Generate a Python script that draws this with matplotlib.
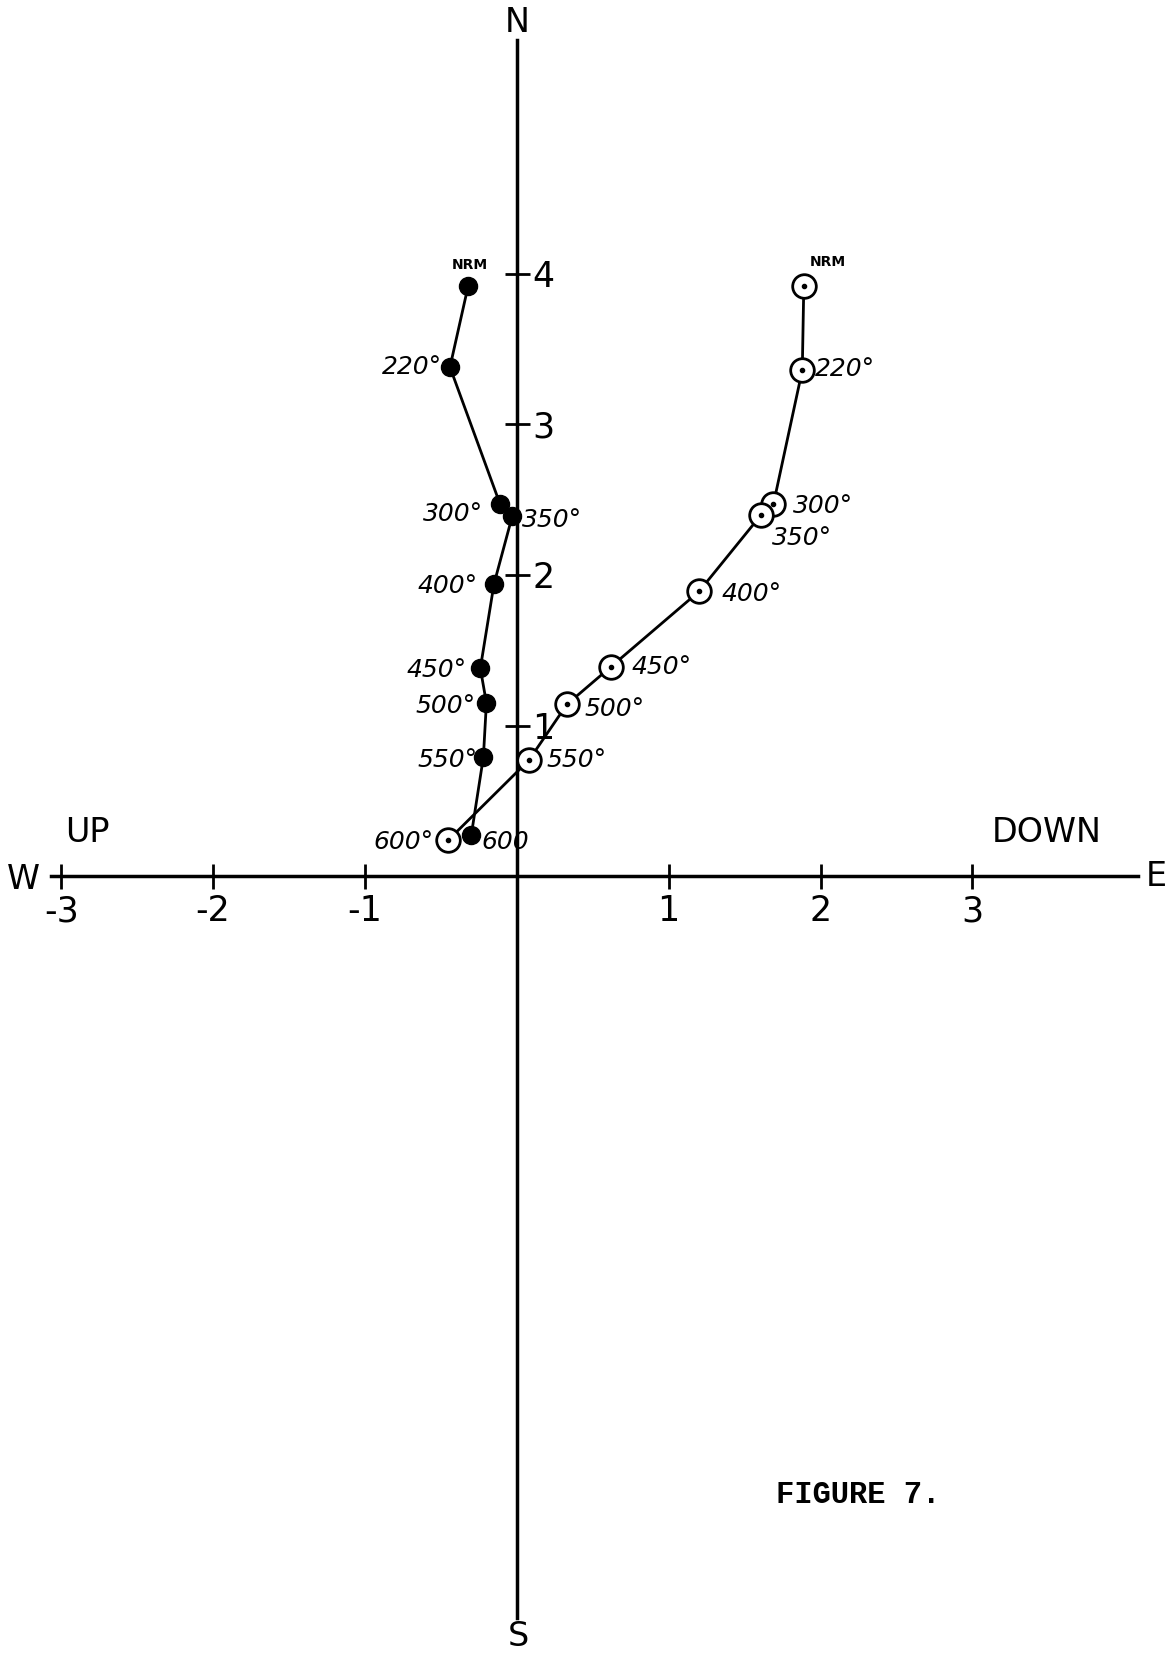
import matplotlib
matplotlib.use("Agg")
import matplotlib.pyplot as plt

# Demagnetization steps (°C) and vector end-points
steps = ["NRM", "220°", "300°", "350°", "400°", "450°", "500°", "550°", "600"]

# Horizontal projection (solid symbols): East vs North
east_h = [-0.32, -0.44, -0.11, -0.03, -0.15, -0.24, -0.20, -0.22, -0.30]
north_h = [3.92, 3.38, 2.47, 2.39, 1.94, 1.38, 1.15, 0.79, 0.27]

# Vertical projection (open symbols): Up/Down vs North
down_v = [1.89, 1.88, 1.69, 1.61, 1.20, 0.62, 0.33, 0.08, -0.45]
north_v = [3.92, 3.36, 2.47, 2.40, 1.89, 1.39, 1.14, 0.77, 0.24]
steps_v = ["NRM", "220°", "300°", "350°", "400°", "450°", "500°", "550°", "600°"]

x_ticks = [-3, -2, -1, 1, 2, 3]
x_tick_labels = ["-3", "-2", "-1", "1", "2", "3"]
y_ticks = [1, 2, 3, 4]
y_tick_labels = ["1", "2", "3", "4"]

# label offsets in points (dx, dy, horizontal alignment)
off_h = [(1.5, 15, "center"), (-6, 0, "right"), (-12, -7, "right"),
         (7, -3, "left"), (-12, -1.5, "right"), (-10, -1.5, "right"),
         (-8, -2, "right"), (-4, -2, "right"), (7, -4.5, "left")]
off_v = [(17, 17, "center"), (9, 0.5, "left"), (14, -1, "left"),
         (8, -17, "left"), (16, -2, "left"), (15, 0, "left"),
         (13, -3, "left"), (13, 0, "left"), (-11, -1.5, "right")]

W, H = 1171, 1657
fig = plt.figure(figsize=(W / 100, H / 100), dpi=100)
ax = fig.add_axes([0, 0, 1, 1])
ax.set_xlim(-3.403, 4.308)
ax.set_ylim(-5.186, 5.818)

lw_axis = 2.5
for s in ("top", "left"):
    ax.spines[s].set_visible(False)
ax.spines["bottom"].set_position(("data", 0))
ax.spines["right"].set_position(("data", 0))
ax.spines["bottom"].set_bounds(-3.07, 4.09)
ax.spines["right"].set_bounds(-4.93, 5.55)
for s in ("bottom", "right"):
    ax.spines[s].set_linewidth(lw_axis)
    ax.spines[s].set_color("black")

ax.yaxis.tick_right()
ax.set_xticks(x_ticks)
ax.set_xticklabels(x_tick_labels)
ax.set_yticks(y_ticks)
ax.set_yticklabels(y_tick_labels)
ax.tick_params(axis="both", direction="inout", length=18, width=2,
               labelsize=25, colors="black")
ax.tick_params(axis="x", pad=4)
ax.tick_params(axis="y", pad=2)

# data traces
ax.plot(east_h, north_h, color="black", lw=2.0, marker="o", ms=13,
        mfc="black", mec="black", zorder=3)
ax.plot(down_v, north_v, color="black", lw=2.0, marker="o", ms=17,
        mfc="white", mec="black", mew=2, zorder=3)
ax.plot(down_v, north_v, ls="none", marker="o", ms=3, color="black", zorder=4)

lab_font = dict(fontsize=18, style="italic", family="DejaVu Sans", color="black")
for i, txt in enumerate(steps):
    dx, dy, ha = off_h[i]
    kw = dict(lab_font)
    if txt == "NRM":
        kw.update(fontsize=10, weight="bold", style="normal")
    ax.annotate(txt, (east_h[i], north_h[i]), xytext=(dx, dy),
                textcoords="offset points", ha=ha, va="center", zorder=5, **kw)
for i, txt in enumerate(steps_v):
    dx, dy, ha = off_v[i]
    kw = dict(lab_font)
    if txt == "NRM":
        kw.update(fontsize=10, weight="bold", style="normal")
    ax.annotate(txt, (down_v[i], north_v[i]), xytext=(dx, dy),
                textcoords="offset points", ha=ha, va="center", zorder=5, **kw)

# compass / component labels
big = dict(fontsize=24, family="DejaVu Sans", color="black", ha="center", va="center")
ax.text(0.0, 5.67, "N", **big)
ax.text(0.01, -5.05, "S", **big)
ax.text(-3.25, -0.02, "W", **big)
ax.text(4.21, 0.0, "E", **big)
ax.text(-2.83, 0.29, "UP", **big)
ax.text(3.49, 0.29, "DOWN", **big)

ax.text(0.733, 0.0975, "FIGURE 7.", transform=fig.transFigure, fontsize=22,
        family="Liberation Mono", weight="bold", ha="center", va="center")

fig.savefig("out.png", dpi=100, facecolor="white")
